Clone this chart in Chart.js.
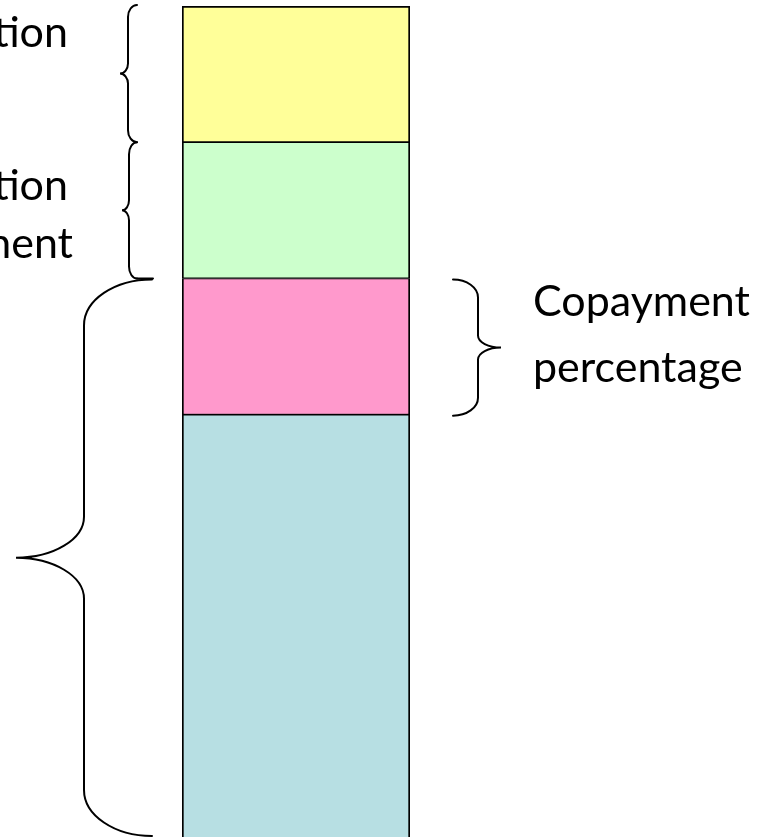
<!DOCTYPE html>
<html>
<head>
<meta charset="utf-8">
<script src="https://cdn.jsdelivr.net/npm/chart.js@4/dist/chart.umd.min.js"></script>
<style>
  html, body { margin: 0; padding: 0; background: #fff; overflow: hidden; }
  #wrap { position: relative; width: 766px; height: 837px; }
</style>
</head>
<body>
<div id="wrap"><canvas id="chart" width="766" height="837"></canvas></div>
<script>
// Stacked segments, bottom to top (units = height of one small segment)
const categories = [''];
const segmentNames = ['Base', 'Copayment percentage', 'Middle', 'Top'];
const segmentValues = [3.2, 1.0, 1.0, 1.0];
const segmentColors = ['#b7dfe3', '#ff99cc', '#ccffcc', '#ffff99'];

// Annotation texts
const rightLabels = ['Copayment', 'percentage'];
const leftLabels = ['tion', 'tion', 'nent'];

const FONT = '43px Lato, "Open Sans", sans-serif';

// Draws a curly brace between y1 and y2.
// xEnd: x of the curled ends, xMid: x of the straight part, xTip: x of the point
function drawBrace(ctx, xEnd, xMid, xTip, y1, y2, rEnd, rTip) {
  const k = 0.5523;
  const ym = (y1 + y2) / 2;
  ctx.beginPath();
  ctx.moveTo(xEnd, y1);
  ctx.bezierCurveTo(xEnd + k * (xMid - xEnd), y1, xMid, y1 + rEnd - k * rEnd, xMid, y1 + rEnd);
  ctx.lineTo(xMid, ym - rTip);
  ctx.bezierCurveTo(xMid, ym - rTip + k * rTip, xTip + k * (xMid - xTip), ym, xTip, ym);
  ctx.bezierCurveTo(xTip + k * (xMid - xTip), ym, xMid, ym + rTip - k * rTip, xMid, ym + rTip);
  ctx.lineTo(xMid, y2 - rEnd);
  ctx.bezierCurveTo(xMid, y2 - rEnd + k * rEnd, xEnd + k * (xMid - xEnd), y2, xEnd, y2);
  ctx.stroke();
}

const bracePlugin = {
  id: 'braces',
  afterDraw(chart) {
    const ctx = chart.ctx;
    const area = chart.chartArea;
    const y = chart.scales.y;
    // stack boundaries from the data
    const b = [0];
    segmentValues.forEach(v => b.push(b[b.length - 1] + v));
    const yTop = y.getPixelForValue(b[4]);
    const yYG = y.getPixelForValue(b[3]);
    const yGP = y.getPixelForValue(b[2]);
    const yPB = y.getPixelForValue(b[1]);
    const L = area.left;
    const R = area.right;

    ctx.save();
    ctx.strokeStyle = '#000';
    ctx.lineWidth = 2;
    ctx.lineCap = 'round';

    // left small braces
    drawBrace(ctx, L - 45, L - 54, L - 62, yTop - 1, yYG, 12, 10);
    drawBrace(ctx, L - 45, L - 53, L - 60, yYG, yGP, 12, 10);
    ctx.beginPath();
    ctx.moveTo(L - 45, yGP);
    ctx.lineTo(L - 29, yGP);
    ctx.stroke();

    // big left brace
    drawBrace(ctx, L - 30, L - 98, L - 166, yGP + 1, chart.height - 1, 46, 41);

    // right brace next to the pink segment
    drawBrace(ctx, R + 43, R + 68, R + 91, yGP + 1, yPB + 1, 18, 12);

    // texts
    ctx.fillStyle = '#000';
    ctx.font = FONT;
    ctx.textBaseline = 'alphabetic';
    ctx.textAlign = 'left';
    ctx.fillText(rightLabels[0], R + 123, 316);
    ctx.fillText(rightLabels[1], R + 123, 382);

    ctx.textAlign = 'right';
    ctx.fillText(leftLabels[0], 68, 47);
    ctx.fillText(leftLabels[1], 68, 200);
    ctx.fillText(leftLabels[2], 73, 258);
    ctx.restore();
  }
};

const datasets = segmentValues.map((v, i) => ({
  label: segmentNames[i],
  data: [v],
  backgroundColor: segmentColors[i],
  borderColor: '#000',
  borderWidth: { left: 2, right: 2, top: i === 3 ? 2 : 1.2, bottom: 1.2 },
  borderSkipped: false,
  barPercentage: 1,
  categoryPercentage: 1
}));

new Chart(document.getElementById('chart'), {
  type: 'bar',
  data: { labels: categories, datasets },
  options: {
    responsive: false,
    animation: false,
    layout: { padding: { left: 182, right: 356, top: 6, bottom: 0 } },
    plugins: { legend: { display: false }, tooltip: { enabled: false } },
    scales: {
      x: { stacked: true, display: false },
      y: { stacked: true, display: false, min: 0.1, max: 6.2 }
    }
  },
  plugins: [bracePlugin]
});
</script>
</body>
</html>
